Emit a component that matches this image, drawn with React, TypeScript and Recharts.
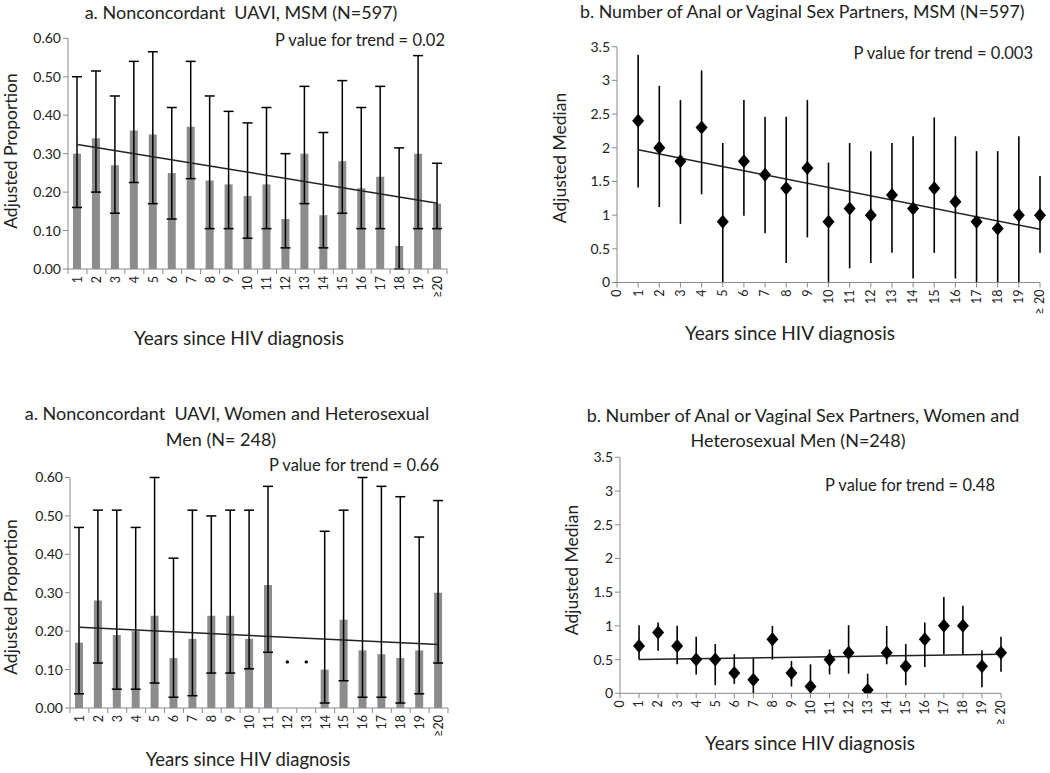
import React from "react";
import { ComposedChart, Bar, Line, Scatter, XAxis, YAxis, ErrorBar } from "recharts";

// categories
const years = ["1", "2", "3", "4", "5", "6", "7", "8", "9", "10", "11", "12", "13", "14", "15", "16", "17", "18", "19", "≥20"];
const partnerYears = [1, 2, 3, 4, 5, 6, 7, 8, 9, 10, 11, 12, 13, 14, 15, 16, 17, 18, 19, 20];
const partnerTickLabels = ["0", "1", "2", "3", "4", "5", "6", "7", "8", "9", "10", "11", "12", "13", "14", "15", "16", "17", "18", "19", "≥ 20"];
const proportionTicks = [0, 0.1, 0.2, 0.3, 0.4, 0.5, 0.6];
const medianTicks = [0, 0.5, 1, 1.5, 2, 2.5, 3, 3.5];

// a. nonconcordant UAVI, MSM
const msmUavi = [0.30, 0.34, 0.27, 0.36, 0.35, 0.25, 0.37, 0.23, 0.22, 0.19, 0.22, 0.13, 0.30, 0.14, 0.28, 0.21, 0.24, 0.06, 0.30, 0.17];
const msmUaviLow = [0.16, 0.20, 0.145, 0.225, 0.17, 0.13, 0.235, 0.105, 0.105, 0.08, 0.105, 0.055, 0.17, 0.055, 0.145, 0.105, 0.105, 0.0, 0.105, 0.105];
const msmUaviHigh = [0.50, 0.515, 0.45, 0.54, 0.565, 0.42, 0.54, 0.45, 0.41, 0.38, 0.42, 0.30, 0.475, 0.355, 0.49, 0.42, 0.475, 0.315, 0.555, 0.275];
const msmUaviTrend = [0.324, 0.171];

// b. partners, MSM
const msmPartners = [2.4, 2.0, 1.8, 2.3, 0.9, 1.8, 1.6, 1.4, 1.7, 0.9, 1.1, 1.0, 1.3, 1.1, 1.4, 1.2, 0.9, 0.8, 1.0, 1.0];
const msmPartnersLow = [1.41, 1.12, 0.87, 1.31, 0, 0.99, 0.73, 0.29, 0.67, 0, 0.21, 0.29, 0.44, 0.06, 0.44, 0.06, 0, 0, 0, 0.44];
const msmPartnersHigh = [3.38, 2.92, 2.71, 3.15, 2.07, 2.71, 2.46, 2.46, 2.71, 1.78, 2.07, 1.95, 2.07, 2.17, 2.45, 2.17, 1.95, 1.95, 2.17, 1.58];
const msmPartnersTrend = [1.97, 0.79];

// a. nonconcordant UAVI, women and heterosexual men
const whUavi = [0.17, 0.28, 0.19, 0.20, 0.24, 0.13, 0.18, 0.24, 0.24, 0.18, 0.32, null, null, 0.10, 0.23, 0.15, 0.14, 0.13, 0.15, 0.30];
const whUaviLow = [0.037, 0.117, 0.049, 0.049, 0.065, 0.028, 0.032, 0.091, 0.091, 0.102, 0.145, null, null, 0.013, 0.071, 0.028, 0.028, 0.013, 0.037, 0.117];
const whUaviHigh = [0.47, 0.515, 0.515, 0.47, 0.60, 0.39, 0.515, 0.50, 0.515, 0.515, 0.577, null, null, 0.46, 0.515, 0.60, 0.577, 0.55, 0.445, 0.54];
const whUaviTrend = [0.21, 0.165];
const whUaviNoData = ["12", "13"];
const noDataMark = 0.12;

// b. partners, women and heterosexual men
const whPartners = [0.7, 0.9, 0.7, 0.5, 0.5, 0.3, 0.2, 0.8, 0.3, 0.1, 0.5, 0.6, 0.05, 0.6, 0.4, 0.8, 1.0, 1.0, 0.4, 0.6];
const whPartnersLow = [0.5, 0.63, 0.43, 0.28, 0.12, 0.14, 0, 0.5, 0.1, 0, 0.28, 0.29, 0, 0.43, 0.12, 0.39, 0.58, 0.58, 0.09, 0.32];
const whPartnersHigh = [1.01, 1.05, 1.0, 0.84, 0.73, 0.58, 0.52, 1.0, 0.48, 0.43, 0.65, 1.01, 0.29, 1.0, 0.73, 1.05, 1.43, 1.30, 0.64, 0.84];
const whPartnersTrend = [0.5, 0.58];

const FONT = "Lato, 'Open Sans', sans-serif";
const AXIS = "#8a8a8a";
const INK = "#222";

const trendAt = (i: number, n: number, trend: number[]) => (i === 0 ? trend[0] : i === n - 1 ? trend[1] : null);

const barRows = (vals: any[], low: any[], high: any[], trend: number[], noData: string[] = []) =>
  years.map((year, i) => ({
    year,
    value: vals[i],
    err: vals[i] == null ? null : [vals[i] - low[i], high[i] - vals[i]],
    trend: trendAt(i, years.length, trend),
    gap: noData.includes(year) ? noDataMark : null,
  }));

const pointRows = (vals: number[], low: number[], high: number[], trend: number[]) =>
  partnerYears.map((x, i) => ({
    x,
    median: vals[i],
    err: [vals[i] - low[i], high[i] - vals[i]],
    trend: trendAt(i, partnerYears.length, trend),
  }));

const CategoryTick = (props: any) => {
  const { x, y, payload, index, band } = props;
  const ty = y + 7;
  return (
    <g>
      <line x1={x - band / 2} x2={x - band / 2} y1={y} y2={y + 5} stroke={AXIS} />
      {index === years.length - 1 && <line x1={x + band / 2} x2={x + band / 2} y1={y} y2={y + 5} stroke={AXIS} />}
      <text x={x} y={ty} dy="0.35em" textAnchor="end" transform={`rotate(-90 ${x} ${ty})`} fontSize={12.5} fill={INK} fontFamily={FONT}>
        {payload.value}
      </text>
    </g>
  );
};

const NumberTick = (props: any) => {
  const { x, y, payload } = props;
  const ty = y + 7;
  return (
    <g>
      <line x1={x} x2={x} y1={y} y2={y + 5} stroke={AXIS} />
      <text x={x} y={ty} dy="0.35em" textAnchor="end" transform={`rotate(-90 ${x} ${ty})`} fontSize={12.5} fill={INK} fontFamily={FONT}>
        {partnerTickLabels[payload.value]}
      </text>
    </g>
  );
};

const Diamond = (props: any) => {
  const { cx, cy } = props;
  if (cx == null || cy == null) return null;
  return <polygon points={`${cx},${cy - 7} ${cx + 6},${cy} ${cx},${cy + 7} ${cx - 6},${cy}`} fill="#000" />;
};

const Txt = ({ x, y, size, children, anchor = "middle", rotate = 0 }: any) => {
  const tx = anchor === "end" ? "-100%" : anchor === "start" ? "0" : "-50%";
  return (
    <div
      style={{
        position: "absolute",
        left: x,
        top: y,
        transform: `translate(${tx}, -50%) rotate(${rotate}deg)`,
        fontSize: size,
        fontFamily: FONT,
        color: INK,
        whiteSpace: "nowrap",
        lineHeight: 1.15,
      }}
    >
      {children}
    </div>
  );
};

const ProportionPanel = ({ rows, left, top, width, height, plot }: any) => {
  const band = (plot.right - plot.left) / years.length;
  return (
    <div style={{ position: "absolute", left, top }}>
      <ComposedChart
        width={width}
        height={height}
        data={rows}
        margin={{ top: plot.top - top, right: left + width - plot.right, left: 0, bottom: top + height - plot.bottom - 40 }}
        style={{ overflow: "visible" }}
      >
        <XAxis
          dataKey="year"
          interval={0}
          height={40}
          stroke={AXIS}
          tickSize={0}
          tickMargin={0}
          tick={(p: any) => <CategoryTick {...p} band={band} />}
        />
        <YAxis
          width={plot.left - left}
          domain={[0, 0.6]}
          ticks={proportionTicks}
          tickFormatter={(v: number) => v.toFixed(2)}
          stroke={AXIS}
          tickSize={5}
          tick={{ fill: INK, fontSize: 14, fontFamily: FONT }}
        />
        <Bar dataKey="value" fill="#8c8c8c" barSize={8} isAnimationActive={false}>
          <ErrorBar dataKey="err" width={5} stroke="#000" strokeWidth={1.5} />
        </Bar>
        <Line dataKey="gap" stroke="none" dot={{ r: 1.7, fill: "#000", stroke: "none" }} isAnimationActive={false} />
        <Line dataKey="trend" stroke={INK} strokeWidth={1.5} dot={false} activeDot={false} connectNulls isAnimationActive={false} />
      </ComposedChart>
    </div>
  );
};

const MedianPanel = ({ rows, left, top, width, height, plot }: any) => (
  <div style={{ position: "absolute", left, top }}>
    <ComposedChart
      width={width}
      height={height}
      data={rows}
      margin={{ top: plot.top - top, right: left + width - plot.right, left: 0, bottom: top + height - plot.bottom - 40 }}
      style={{ overflow: "visible" }}
    >
      <XAxis
        dataKey="x"
        type="number"
        domain={[0, 20]}
        ticks={partnerTickLabels.map((_, i) => i)}
        interval={0}
        height={40}
        stroke={AXIS}
        tickSize={0}
        tickMargin={0}
        tick={(p: any) => <NumberTick {...p} />}
      />
      <YAxis
        width={plot.left - left}
        domain={[0, 3.5]}
        ticks={medianTicks}
        stroke={AXIS}
        tickSize={5}
        allowDataOverflow
        tick={{ fill: INK, fontSize: 14, fontFamily: FONT }}
      />
      <Line dataKey="trend" stroke={INK} strokeWidth={1.5} dot={false} activeDot={false} connectNulls isAnimationActive={false} />
      <Scatter dataKey="median" shape={(p: any) => <Diamond {...p} />} isAnimationActive={false}>
        <ErrorBar dataKey="err" direction="y" width={0} stroke="#000" strokeWidth={1.6} />
      </Scatter>
    </ComposedChart>
  </div>
);

export default function App() {
  return (
    <div style={{ position: "fixed", left: 0, top: 0, width: 1050, height: 773, background: "#fff", overflow: "hidden" }}>
      <ProportionPanel
        rows={barRows(msmUavi, msmUaviLow, msmUaviHigh, msmUaviTrend)}
        left={0}
        top={0}
        width={470}
        height={320}
        plot={{ left: 68, right: 447, top: 38.3, bottom: 269 }}
      />
      <MedianPanel
        rows={pointRows(msmPartners, msmPartnersLow, msmPartnersHigh, msmPartnersTrend)}
        left={520}
        top={0}
        width={530}
        height={330}
        plot={{ left: 617, right: 1040, top: 46.7, bottom: 282.5 }}
      />
      <ProportionPanel
        rows={barRows(whUavi, whUaviLow, whUaviHigh, whUaviTrend, whUaviNoData)}
        left={0}
        top={380}
        width={470}
        height={370}
        plot={{ left: 70, right: 448, top: 477.5, bottom: 708 }}
      />
      <MedianPanel
        rows={pointRows(whPartners, whPartnersLow, whPartnersHigh, whPartnersTrend)}
        left={520}
        top={380}
        width={530}
        height={360}
        plot={{ left: 620, right: 1001, top: 457.3, bottom: 693.3 }}
      />

      <Txt x={241} y={12} size={18}>a. Nonconcordant&nbsp; UAVI, MSM (N=597)</Txt>
      <Txt x={445} y={40} size={16.5} anchor="end">P value for trend = 0.02</Txt>
      <Txt x={11} y={151} size={17.5} rotate={-90}>Adjusted Proportion</Txt>
      <Txt x={239} y={338} size={19}>Years since HIV diagnosis</Txt>

      <Txt x={580} y={11} size={17.8} anchor="start">b. Number of Anal or Vaginal Sex Partners, MSM (N=597)</Txt>
      <Txt x={1033} y={53} size={16.5} anchor="end">P value for trend = 0.003</Txt>
      <Txt x={560} y={158} size={17.5} rotate={-90}>Adjusted Median</Txt>
      <Txt x={790} y={333} size={19}>Years since HIV diagnosis</Txt>

      <Txt x={227} y={413} size={18}>a. Nonconcordant&nbsp; UAVI, Women and Heterosexual</Txt>
      <Txt x={221} y={439} size={18}>Men (N= 248)</Txt>
      <Txt x={439} y={465} size={16.5} anchor="end">P value for trend = 0.66</Txt>
      <Txt x={11} y={597} size={17.5} rotate={-90}>Adjusted Proportion</Txt>
      <Txt x={248} y={760} size={18.5}>Years since HIV diagnosis</Txt>

      <Txt x={803} y={415} size={18}>b. Number of Anal or Vaginal Sex Partners, Women and</Txt>
      <Txt x={798} y={440} size={18}>Heterosexual Men (N=248)</Txt>
      <Txt x={995} y={485} size={16.5} anchor="end">P value for trend = 0.48</Txt>
      <Txt x={572} y={570} size={17.5} rotate={-90}>Adjusted Median</Txt>
      <Txt x={810} y={743} size={19}>Years since HIV diagnosis</Txt>
    </div>
  );
}
